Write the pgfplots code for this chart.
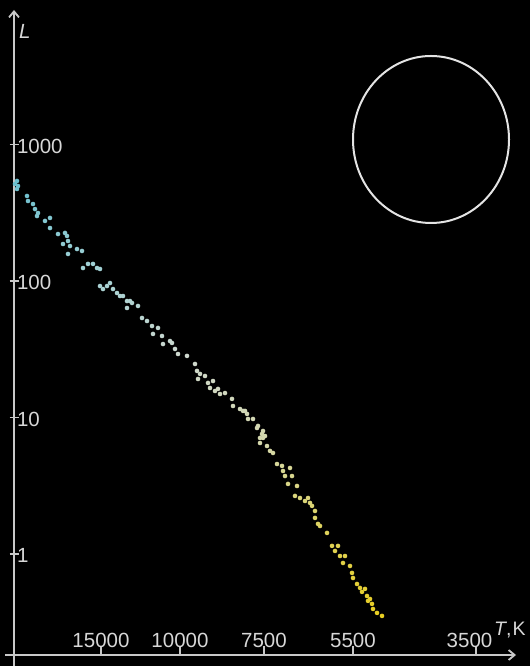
\documentclass[border=0pt]{standalone}
\usepackage{pgfplots}
\pgfplotsset{compat=1.18}
\usepackage{fontspec}
\setmainfont{Liberation Sans}
\usetikzlibrary{arrows.meta}
\definecolor{axc}{RGB}{200,200,200}
\definecolor{txc}{RGB}{215,215,215}
\begin{document}
\begin{tikzpicture}[x=1pt,y=1pt]
\fill[black] (0,0) rectangle (530,666);
\useasboundingbox (0,0) rectangle (530,666);
\draw[axc, line width=1.8pt, -{Straight Barb[length=6pt,width=10pt]}] (14,0) -- (14,656);
\draw[axc, line width=1.8pt, -{Straight Barb[length=6pt,width=10pt]}] (5,11) -- (516,11);
\draw[color={rgb,255:red,228;green,228;blue,228}, line width=2pt] (431,526.5) ellipse [x radius=78pt, y radius=83.5pt];
\begin{axis}[at={(14,11)}, anchor=south west, scale only axis,
  width=502pt, height=645pt,
  xmin=14, xmax=516, ymin=-0.711, ymax=4.015,
  axis lines=left, axis line style={draw=none},
  xtick={101,180,264,353,476}, xticklabels={15000,10000,7500,5500,\kern-13pt 3500},
  ytick={0,1,2,3}, yticklabels={1,10,100,1000},
  tick align=center, major tick length=9pt, tick style={axc, line width=1.6pt},
  ticklabel style={font=\fontsize{20.5}{24}\selectfont, text=txc},
  xticklabel style={anchor=south, yshift=4pt},
  yticklabel style={anchor=west, xshift=4pt, yshift=-1.5pt},
  /pgf/number format/assume math mode=true,
  clip=false,
  colormap={hr}{rgb255=(232,205,30) rgb255=(222,210,90) rgb255=(212,215,170) rgb255=(205,215,205) rgb255=(160,208,212) rgb255=(105,190,205)},
  point meta min=-0.5, point meta max=2.75,
]
\addplot[scatter, only marks, mark=*, mark size=2.3pt,
  scatter/use mapped color={draw opacity=0, fill=mapped color}] table {
x y
17 2.733
17 2.674
18 2.696
15 2.711
27 2.623
28 2.586
33 2.564
35 2.527
38 2.498
37 2.476
45 2.440
50 2.462
50 2.388
58 2.344
65 2.352
67 2.330
68 2.293
63 2.271
70 2.256
77 2.234
82 2.220
68 2.198
83 2.095
88 2.125
93 2.125
97 2.095
100 2.088
100 1.963
107 1.963
110 1.985
103 1.941
113 1.941
117 1.912
120 1.890
123 1.890
127 1.853
130 1.853
132 1.839
138 1.817
127 1.802
142 1.729
147 1.707
152 1.670
158 1.656
153 1.612
162 1.597
170 1.560
163 1.538
172 1.546
175 1.502
178 1.465
187 1.451
195 1.392
197 1.341
200 1.319
205 1.304
198 1.282
208 1.253
213 1.267
210 1.216
218 1.209
215 1.194
220 1.172
225 1.179
232 1.136
233 1.084
240 1.062
243 1.048
245 1.048
247 1.026
248 0.989
253 0.989
258 0.938
257 0.923
262 0.879
263 0.901
265 0.864
260 0.850
263 0.850
260 0.813
267 0.791
270 0.755
273 0.740
277 0.659
282 0.645
283 0.608
290 0.630
292 0.571
285 0.571
288 0.513
297 0.498
295 0.425
300 0.410
308 0.410
305 0.388
310 0.374
312 0.352
315 0.315
315 0.264
320 0.205
318 0.220
327 0.154
332 0.059
335 0.022
338 0.059
340 -0.015
345 -0.015
343 -0.066
350 -0.088
352 -0.139
353 -0.176
357 -0.220
360 -0.249
365 -0.256
362 -0.278
367 -0.308
370 -0.330
368 -0.344
372 -0.366
373 -0.403
377 -0.432
382 -0.454
};
\end{axis}
\node[anchor=base west, text=txc, font=\fontsize{19.5}{24}\selectfont, inner sep=0pt] at (494,30) {\textit{T},\kern1pt K};
\node[anchor=base west, text=txc, font=\fontsize{20.5}{24}\selectfont, inner sep=0pt] at (19,627) {\textit{L}};
\end{tikzpicture}
\end{document}
